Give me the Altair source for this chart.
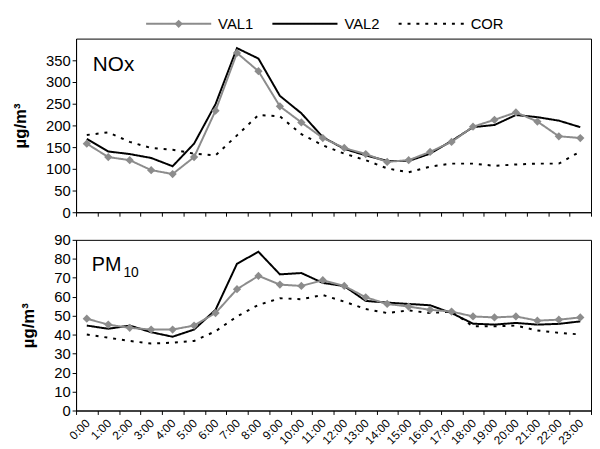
import altair as alt
import pandas as pd

hours = [f"{h}:00" for h in range(24)]
series_names = ["VAL1", "VAL2", "COR"]
series_colors = ["#8c8c8c", "#000000", "#000000"]
series_dash = [[1, 0], [1, 0], [2.5, 4.5]]

nox_val1 = [158, 127, 120, 97, 88, 127, 234, 367, 325, 244, 207, 171, 148, 134, 116, 120, 139, 162, 197, 213, 230, 209, 175, 171]
nox_val2 = [169, 140, 134, 125, 106, 158, 249, 378, 354, 268, 228, 173, 146, 131, 118, 118, 135, 164, 196, 201, 224, 219, 211, 196]
nox_cor = [178, 184, 162, 148, 144, 135, 131, 177, 224, 221, 180, 154, 135, 120, 101, 92, 105, 112, 112, 107, 110, 112, 112, 140]

pm_val1 = [48.4, 45.3, 43.6, 42.7, 42.7, 44.8, 51.4, 64.0, 71.0, 66.4, 65.7, 68.7, 65.7, 59.7, 56.2, 54.8, 53.1, 52.2, 49.6, 49.1, 49.6, 47.4, 47.9, 49.1]
pm_val2 = [44.8, 43.1, 44.8, 41.3, 38.9, 42.7, 53.1, 77.4, 83.7, 71.8, 72.5, 67.3, 65.6, 57.8, 56.9, 56.2, 55.5, 51.4, 45.8, 45.3, 46.2, 45.3, 45.7, 47.0]
pm_cor = [40.1, 38.4, 36.7, 35.3, 35.8, 36.7, 41.8, 49.6, 55.7, 59.2, 58.7, 60.9, 57.4, 53.5, 51.4, 52.8, 51.4, 52.2, 44.4, 44.4, 44.8, 42.2, 41.0, 40.1]

nox_ticks = [0, 50, 100, 150, 200, 250, 300, 350]
pm_ticks = [0, 10, 20, 30, 40, 50, 60, 70, 80, 90]

FONT = "Liberation Sans"
W = 522


def long_df(v1, v2, cor):
    rows = []
    for name, vals in zip(series_names, [v1, v2, cor]):
        for h, v in zip(hours, vals):
            rows.append({"hour": h, "series": name, "value": v})
    return pd.DataFrame(rows)


color_scale = alt.Scale(domain=series_names, range=series_colors)
dash_scale = alt.Scale(domain=series_names, range=series_dash)


def panel(df, ymax, yticks, show_labels, height, label_layers):
    xaxis = alt.Axis(
        tickBand="extent", title=None, labels=show_labels, labelAngle=-45,
        labelFontSize=12, labelPadding=3, labelOffset=-3, tickSize=4,
        labelBound=False, labelOverlap=False, domainColor="black",
    )
    x = alt.X("hour:O", sort=hours, bandPosition=0.5,
              scale=alt.Scale(type="band", paddingInner=0, paddingOuter=0),
              axis=xaxis)
    y = alt.Y("value:Q", scale=alt.Scale(domain=[0, ymax], nice=False, zero=True),
              axis=alt.Axis(values=yticks, title="µg/m³", titleFontWeight="bold",
                            titleFontSize=17, titlePadding=16, labelFontSize=15,
                            tickSize=4, labelPadding=2))
    base = alt.Chart(df)
    lines = base.mark_line(strokeWidth=2).encode(
        x=x, y=y,
        color=alt.Color("series:N", scale=color_scale, legend=None),
        strokeDash=alt.StrokeDash("series:N", scale=dash_scale, legend=None),
    )
    pts = base.transform_filter("datum.series == 'VAL1'").mark_point(
        shape="diamond", filled=True, size=70, opacity=1, color="#8c8c8c"
    ).encode(x=x, y=y)
    return alt.layer(*[lines.transform_filter(f"datum.series == '{s}'") for s in ["COR", "VAL2", "VAL1"]],
                     pts, *label_layers).properties(width=W, height=height)


nox_label = alt.Chart(pd.DataFrame({"t": ["NOx"]})).mark_text(
    font=FONT, fontSize=21, align="left", baseline="alphabetic", color="black"
).encode(text="t:N", x=alt.value(17), y=alt.value(33))

pm_label = alt.Chart(pd.DataFrame({"t": ["PM"]})).mark_text(
    font=FONT, fontSize=20, align="left", baseline="alphabetic", color="black"
).encode(text="t:N", x=alt.value(16), y=alt.value(32))
pm_sub = alt.Chart(pd.DataFrame({"t": ["10"]})).mark_text(
    font=FONT, fontSize=14, align="left", baseline="alphabetic", color="black"
).encode(text="t:N", x=alt.value(48), y=alt.value(38))

top = panel(long_df(nox_val1, nox_val2, nox_cor), 400, nox_ticks, False, 176, [nox_label])
bottom = panel(long_df(pm_val1, pm_val2, pm_cor), 90, pm_ticks, True, 173, [pm_label, pm_sub])

# legend row
leg_df = pd.DataFrame({"series": series_names})
lx = alt.X("series:N", sort=series_names, scale=alt.Scale(type="point", padding=0.8125), axis=None)
leg_lines = alt.Chart(leg_df).mark_point(
    shape="M-1,0L1,0", size=4356, filled=False, strokeWidth=2, opacity=1
).encode(
    x=lx,
    color=alt.Color("series:N", scale=color_scale, legend=None),
    strokeDash=alt.StrokeDash("series:N", scale=alt.Scale(domain=series_names, range=[[1, 0], [1, 0], [3, 6]]), legend=None),
)
leg_diam = alt.Chart(leg_df).transform_filter("datum.series == 'VAL1'").mark_point(
    shape="diamond", filled=True, size=70, opacity=1, color="#8c8c8c"
).encode(x=lx)
leg_text = alt.Chart(leg_df).mark_text(
    font=FONT, fontSize=15, align="left", dx=40, color="black"
).encode(x=lx, text="series:N")
legend = alt.layer(leg_lines, leg_diam, leg_text).properties(
    width=464, height=14, view=alt.ViewBackground(stroke="transparent")
)

chart = alt.vconcat(
    legend, alt.vconcat(top, bottom, spacing=11), spacing=5
).properties(
    padding={"left": 3, "right": 0, "top": 5, "bottom": 0}
).configure_axis(
    labelFont=FONT, titleFont=FONT, labelColor="black", titleColor="black",
    domainColor="black", tickColor="black", grid=False
).configure_view(stroke="black", strokeWidth=1)

chart.save("out.html", embed_options={"renderer": "svg", "actions": False})
